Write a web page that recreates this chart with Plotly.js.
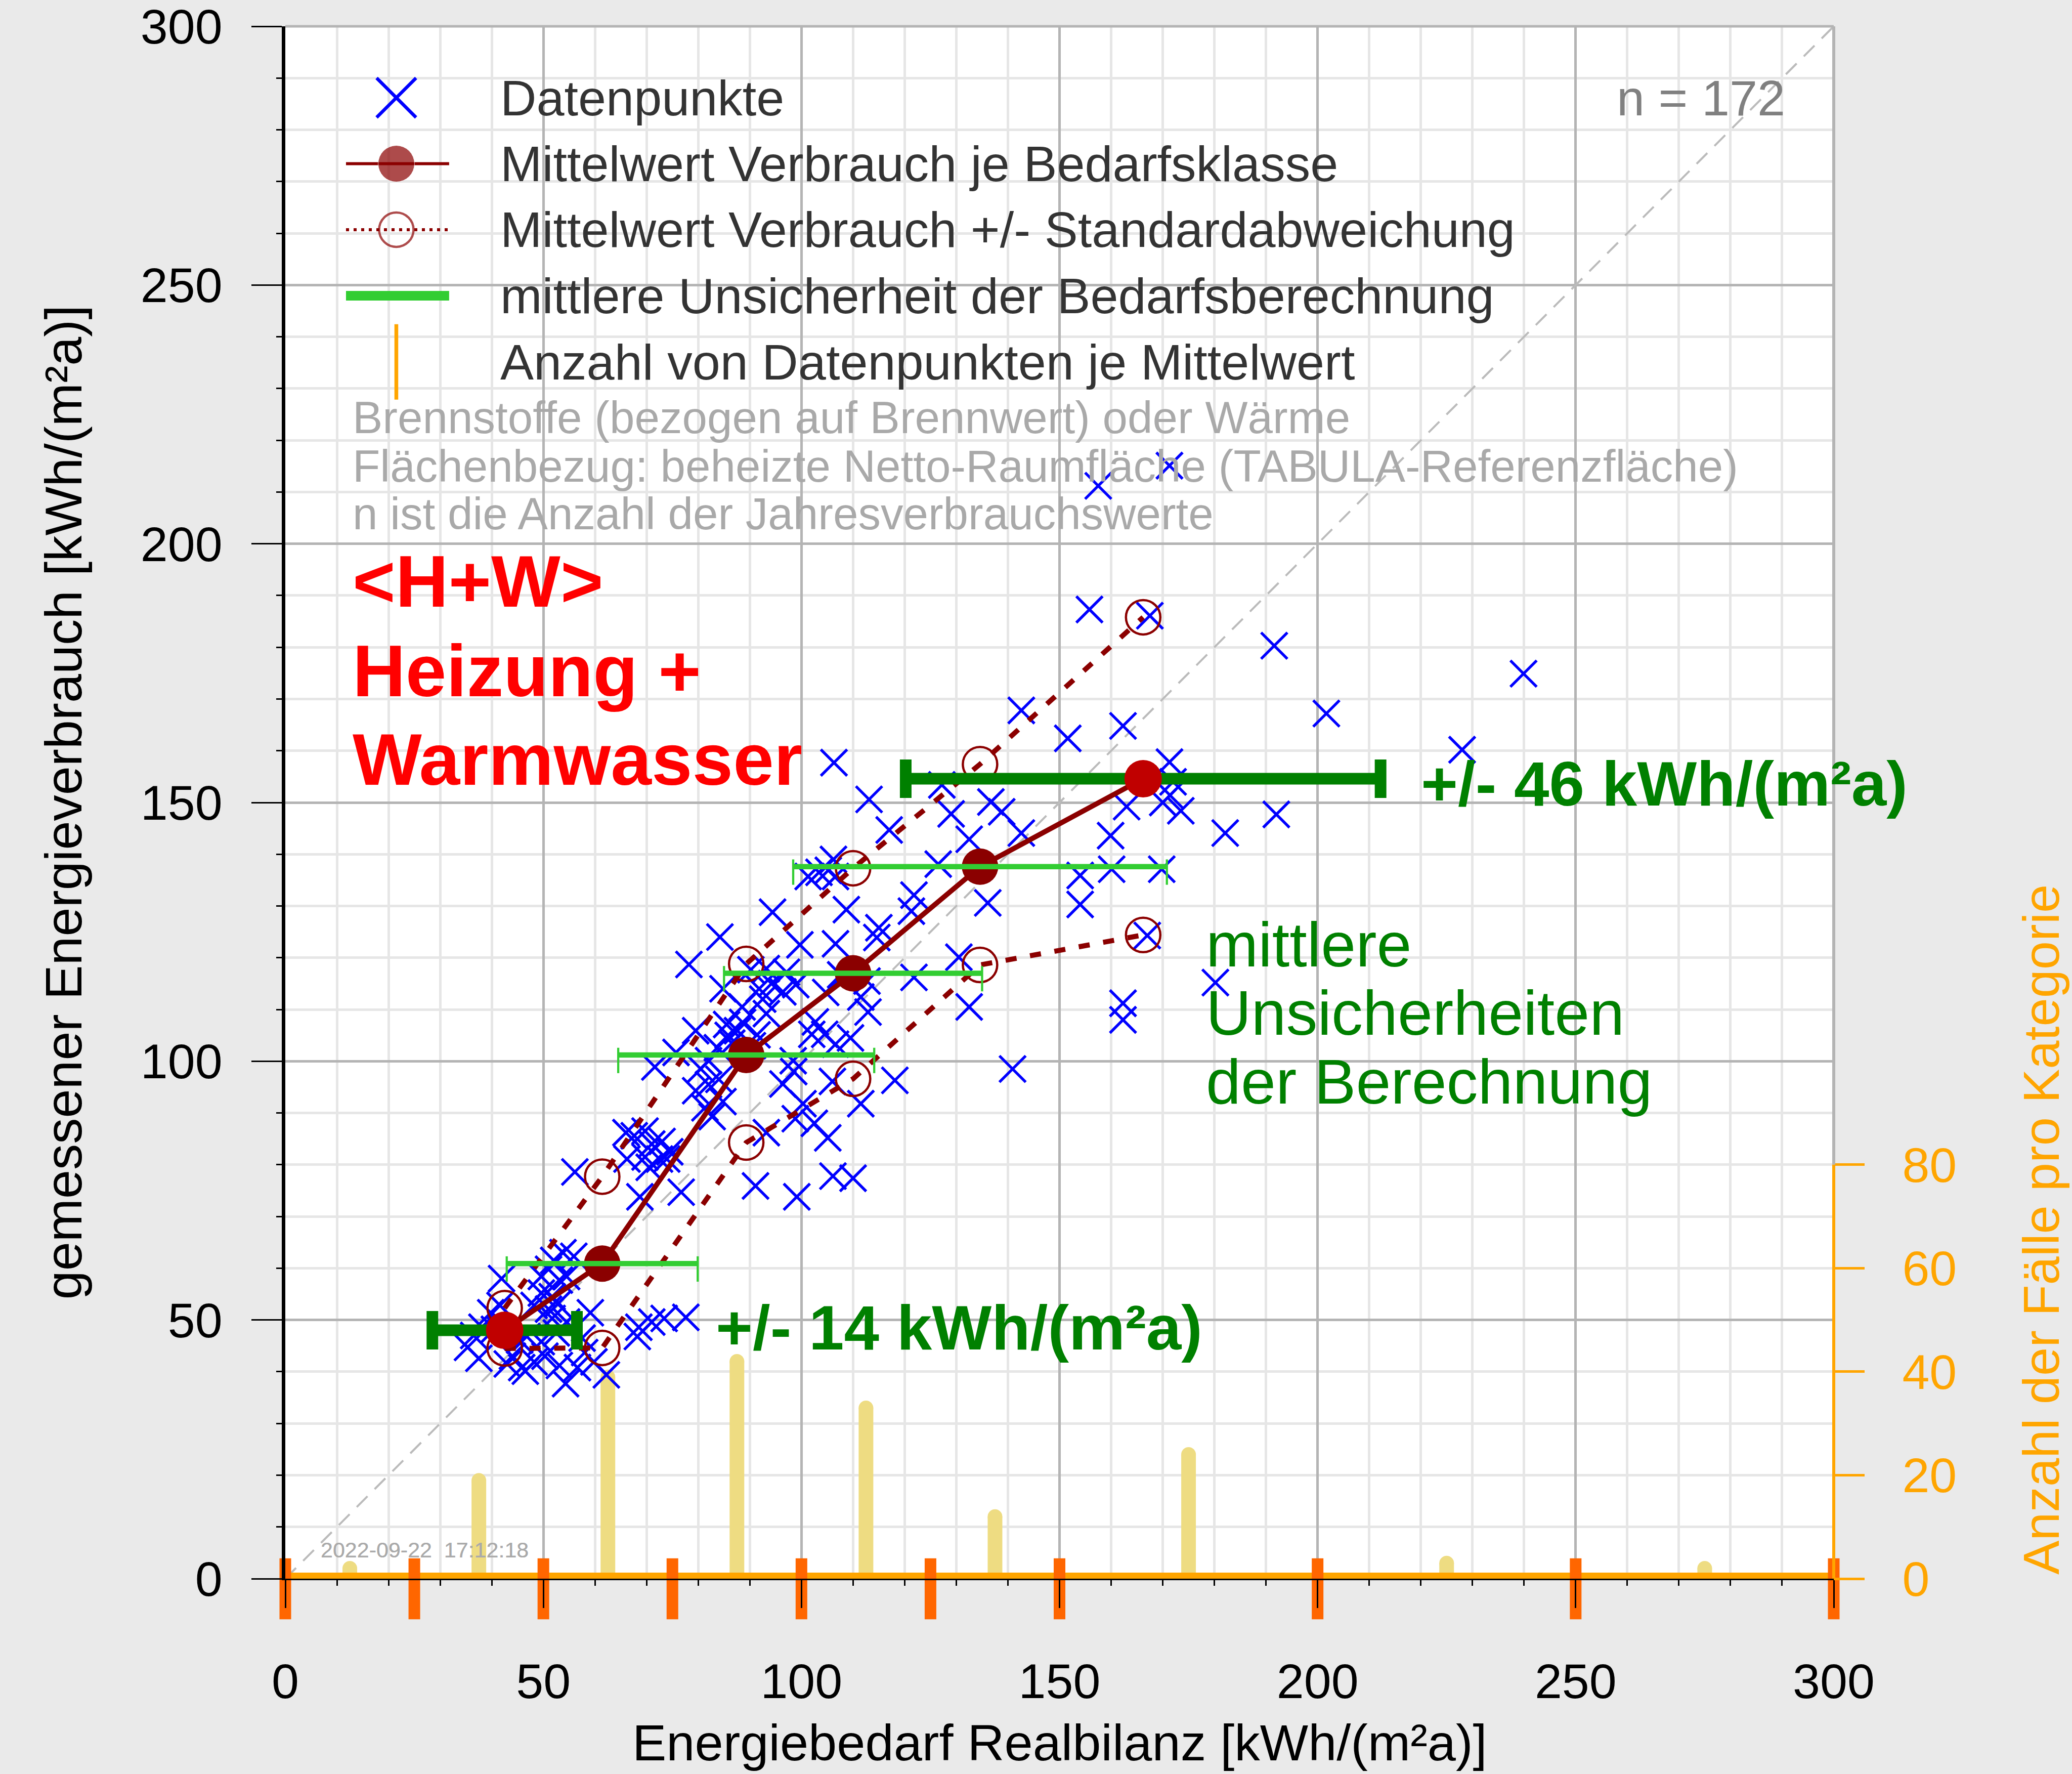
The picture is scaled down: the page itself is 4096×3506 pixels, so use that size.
<!DOCTYPE html>
<html><head><meta charset="utf-8">
<script src="https://cdn.plot.ly/plotly-3.0.1.min.js"></script>
<style>html,body{margin:0;padding:0;background:#EAEAEA;} #chart{width:4096px;height:3506px;}</style>
</head><body><div id="chart"></div>
<script>
// ---------------- data ----------------
const pointsX = [
 41.9,49.6,49.6,48.2,41.6,39.8,38.1,35.3,37.5,45.4,46.8,44.0,45.8,48.2,46.5,40.5,49.6,36.5,43.0,
 53.8,55.9,51.0,53.1,54.5,51.7,52.8,51.0,59.1,68.5,71.0,73.4,68.2,51.7,50.3,53.1,54.3,56.6,58.0,59.8,62.2,54.5,
 71.6,68.7,69.7,67.6,69.7,72.5,73.9,66.2,56.1,71.0,74.5,66.0,70.5,52.5,57.5,52.0,73.0,
 77.6,94.4,84.2,78.2,84.8,90.2,93.2,91.8,94.2,93.2,85.5,87.6,85.8,88.6,79.5,75.7,82.0,83.7,91.4,82.0,84.8,81.3,82.7,93.2,91.1,76.7,79.5,
 99.7,97.1,98.9,96.4,98.5,96.4,98.4,98.8,99.1,88.5,86.5,90.5,80.5,92.5,84.0,
 106.3,113.1,117.0,106.2,101.3,103.4,105.2,106.6,121.8,121.3,108.7,106.6,115.0,114.6,121.8,112.7,112.9,111.5,107.6,102.7,104.5,102.0,106.6,118.1,106.0,111.5,100.3,102.5,105.1,106.1,104.7,110.0,109.5,
 129.0,127.2,136.7,138.8,132.5,126.5,136.1,130.5,132.5,140.9,142.6,142.6,
 157.5,171.3,155.8,167.5,191.6,151.6,162.3,171.3,163.0,171.4,173.5,192.0,182.1,159.9,160.1,154.0,169.8,154.0,167.0,180.2,162.3,162.3,170.0,172.0,
 201.7,239.9,228.0
];
const pointsY = [
 58.0,58.4,55.2,52.8,52.8,51.4,48.6,44.7,42.6,46.1,46.8,43.0,40.8,41.9,40.1,48.2,45.8,47.0,41.5,
 63.0,62.3,59.8,57.7,58.4,54.5,53.1,52.1,51.4,48.6,49.6,50.3,46.8,50.3,43.0,41.2,37.7,40.8,43.7,41.9,39.4,49.6,
 98.9,73.8,86.5,85.6,81.5,81.1,81.1,81.1,78.6,84.0,82.5,86.2,79.5,47.5,46.5,61.5,84.5,
 50.5,128.8,124.0,118.7,114.0,117.7,117.9,114.0,115.0,109.2,107.1,105.9,105.0,107.5,105.9,101.7,100.1,102.6,105.1,95.5,92.2,91.0,89.3,86.2,75.9,74.7,94.3,
 122.5,117.2,114.8,113.4,98.0,95.6,100.1,88.9,73.8,110.5,103.5,103.0,98.5,112.0,96.5,
 157.7,150.6,144.7,139.0,135.7,136.5,136.9,135.7,132.1,129.0,129.3,122.7,125.8,123.9,116.2,115.5,109.5,112.4,116.7,107.6,105.2,105.2,103.3,96.3,96.1,91.8,91.8,88.0,85.2,77.8,113.3,77.4,104.5,
 147.8,153.4,150.1,148.2,142.9,138.1,130.6,120.1,110.5,98.5,167.8,144.1,
 211.2,215.1,187.3,186.1,180.3,162.4,164.8,157.8,149.2,151.4,148.4,147.7,144.1,143.6,137.1,135.9,137.1,130.3,124.3,115.2,111.2,108.0,150.0,154.0,
 167.2,174.9,160.2
];
const meanX = [42.5, 61.4, 89.3, 110.0, 134.6, 166.2];
const meanY = [48.0, 60.9, 101.2, 117.0, 137.6, 154.6];
const stdUpperY = [52.3, 77.7, 118.8, 137.3, 157.4, 185.8];
const stdLowerY = [44.5, 44.6, 84.3, 96.6, 118.6, 124.4];
const uncertaintyHalf = [14, 18.5, 24.8, 25.0, 36.2, 46];
const binCenters = [12.5, 37.5, 62.5, 87.5, 112.5, 137.5, 175, 225, 275];
const binCounts = [2, 19, 39, 42, 33, 12, 24, 3, 2];
const binEdges = [0, 25, 50, 75, 100, 125, 150, 200, 250, 300];
const mainTickVals = [0, 50, 100, 150, 200, 250, 300];
const rightTickVals = [0, 20, 40, 60, 80];
const diagonal = [0, 300];

// legend layout (hidden 0..1 axes)
const legendRowY = [0.954, 0.9115, 0.869, 0.8264, 0.7838];
const legendSymX = 0.0717, legendLineX = [0.0392, 0.1058], legendTextX = 0.1382;

const FONT = 'Liberation Sans, Arial, sans-serif';
const DARKRED = '#8B0000', BRIGHTRED = '#C00000', LIME = '#32CD32', DGREEN = '#008000';
const KHAKI = '#EEDC82', ORANGE = '#FFA500', DORANGE = '#FF6600';

const traces = [];
// diagonal
traces.push({x: diagonal, y: diagonal, mode: 'lines', line: {color: '#BBBBBB', width: 4, dash: '30px,20px'}});
// count bars
const bx = [], by = [];
binCenters.forEach((c, i) => { bx.push(c, c, null); by.push(0, binCounts[i], null); });
traces.push({x: bx, y: by, mode: 'lines', line: {color: KHAKI, width: 29}});
traces.push({x: binCenters, y: binCounts, mode: 'markers', marker: {symbol: 'circle', size: 29, color: KHAKI}});
// data points
traces.push({x: pointsX, y: pointsY, mode: 'markers', marker: {symbol: 'x-thin', size: 52, color: '#0000FF', line: {width: 5.5, color: '#0000FF'}}});
// std dev lines
[stdUpperY, stdLowerY].forEach(sy => {
  traces.push({x: meanX, y: sy, mode: 'lines+markers', line: {color: DARKRED, width: 10, dash: '22px,27px'},
    marker: {symbol: 'circle-open', size: 68, color: DARKRED, line: {width: 4.5, color: DARKRED}}});
});
// mean line
traces.push({x: meanX, y: meanY, mode: 'lines+markers', line: {color: DARKRED, width: 10},
  marker: {symbol: 'circle', size: 72, color: DARKRED}});
// light green uncertainty bars (inner classes)
const innerIdx = meanX.map((_, i) => i).slice(1, -1);
traces.push({x: innerIdx.map(i => meanX[i]), y: innerIdx.map(i => meanY[i]), mode: 'markers',
  marker: {size: 1, color: 'rgba(0,0,0,0)'},
  error_x: {type: 'data', array: innerIdx.map(i => uncertaintyHalf[i]), color: LIME, thickness: 10.5, width: 0}});
const capX = [], capY = [];
innerIdx.forEach(i => { capX.push(meanX[i] - uncertaintyHalf[i], meanX[i] + uncertaintyHalf[i]); capY.push(meanY[i], meanY[i]); });
traces.push({x: capX, y: capY, mode: 'markers', marker: {size: 1, color: 'rgba(0,0,0,0)'},
  error_y: {type: 'constant', symmetric: false, value: 1.4, valueminus: 3.5, color: LIME, thickness: 4.3, width: 0}});
// end classes with dark green error bars
const last = meanX.length - 1;
traces.push({x: [meanX[0], meanX[last]], y: [meanY[0], meanY[last]], mode: 'markers',
  marker: {symbol: 'circle', size: 74, color: BRIGHTRED},
  error_x: {type: 'data', array: [uncertaintyHalf[0], uncertaintyHalf[last]], color: DGREEN, thickness: 23, width: 38}});
// orange baseline and bin-edge ticks on right axis
traces.push({x: [binEdges[0], binEdges[binEdges.length - 1]], y: [0, 0], yaxis: 'y2', mode: 'lines', line: {color: ORANGE, width: 24}});
traces.push({x: binEdges, y: binEdges.map(() => 0), yaxis: 'y2', mode: 'markers', cliponaxis: false,
  marker: {symbol: 'line-ns', size: 86, standoff: 20, color: DORANGE, line: {width: 23, color: DORANGE}}});

// legend symbols
const L = {xaxis: 'x3', yaxis: 'y3', cliponaxis: false};
traces.push(Object.assign({x: [legendSymX], y: [legendRowY[0]], mode: 'markers',
  marker: {symbol: 'x-thin', size: 78, color: '#0000FF', line: {width: 6.5, color: '#0000FF'}}}, L));
traces.push(Object.assign({x: [legendLineX[0], legendSymX, legendLineX[1]], y: [legendRowY[1], legendRowY[1], legendRowY[1]],
  mode: 'lines+markers', line: {color: DARKRED, width: 6}, marker: {size: [0, 72, 0], color: DARKRED}}, L));
traces.push(Object.assign({x: [legendLineX[0], legendSymX, legendLineX[1]], y: [legendRowY[2], legendRowY[2], legendRowY[2]],
  mode: 'lines+markers', line: {color: DARKRED, width: 6, dash: '6px,9px'},
  marker: {symbol: 'circle-open', size: [0, 68, 0], color: DARKRED, line: {width: 4.5, color: DARKRED}}}, L));
traces.push(Object.assign({x: legendLineX, y: [legendRowY[3], legendRowY[3]], mode: 'lines', line: {color: LIME, width: 19}}, L));
traces.push(Object.assign({x: [legendSymX, legendSymX], y: [legendRowY[4] - 0.0243, legendRowY[4] + 0.0243], mode: 'lines', line: {color: ORANGE, width: 7.5}}, L));

const legendTexts = ['Datenpunkte', 'Mittelwert Verbrauch je Bedarfsklasse', 'Mittelwert Verbrauch +/- Standardabweichung',
  'mittlere Unsicherheit der Bedarfsberechnung', 'Anzahl von Datenpunkten je Mittelwert'];
const notes = ['Brennstoffe (bezogen auf Brennwert) oder Wärme', 'Flächenbezug: beheizte Netto-Raumfläche (TABULA-Referenzfläche)', 'n ist die Anzahl der Jahresverbrauchswerte'];
const noteY = [0.7481, 0.7166, 0.686];
const redTexts = ['&lt;H+W&gt;', 'Heizung +', 'Warmwasser'];
const redY = [0.6426, 0.5847, 0.5277];
const greenTexts = ['mittlere', 'Unsicherheiten', 'der Berechnung'];
const greenY = [0.4085, 0.3643, 0.32];

const ann = [];
const A = (o) => ann.push(Object.assign({xref: 'paper', yref: 'paper', showarrow: false, xanchor: 'left', yanchor: 'middle'}, o));
legendTexts.forEach((t, i) => A({x: legendTextX, y: legendRowY[i], text: t, font: {family: FONT, size: 99, color: '#333333'}}));
A({x: 0.9693, y: legendRowY[0], xanchor: 'right', text: 'n = ' + pointsX.length, font: {family: FONT, size: 99, color: '#808080'}});
notes.forEach((t, i) => A({x: 0.0427, y: noteY[i], text: t, font: {family: FONT, size: 89, color: '#A9A9A9'}}));
redTexts.forEach((t, i) => A({x: 0.0427, y: redY[i], text: '<b>' + t + '</b>', font: {family: FONT, size: 145, color: '#FF0000'}}));
A({x: 0.7329, y: 0.5123, text: '<b>+/- ' + uncertaintyHalf[last] + ' kWh/(m²a)</b>', font: {family: FONT, size: 125, color: DGREEN}});
A({x: 0.2773, y: 0.1617, text: '<b>+/- ' + uncertaintyHalf[0] + ' kWh/(m²a)</b>', font: {family: FONT, size: 125, color: DGREEN}});
greenTexts.forEach((t, i) => A({x: 0.5939, y: greenY[i], text: t, font: {family: FONT, size: 124, color: DGREEN}}));
A({x: 0.0222, y: 0.0187, text: '2022-09-22  17:12:13', font: {family: FONT, size: 43, color: '#AAAAAA'}});
A({x: 0.0222, y: 0.0187, text: '2022-09-22  17:12:18', font: {family: FONT, size: 43, color: '#AAAAAA'}});
A({x: 0.5, y: -0.1055, xanchor: 'center', text: 'Energiebedarf Realbilanz [kWh/(m²a)]', font: {family: FONT, size: 101, color: '#000000'}});
A({x: -0.1433, y: 0.5, xanchor: 'center', textangle: -90, text: 'gemessener Energieverbrauch [kWh/(m²a)]', font: {family: FONT, size: 102.5, color: '#000000'}});
A({x: 1.134, y: 0.002, xanchor: 'center', yanchor: 'bottom', textangle: -90, text: 'Anzahl der Fälle pro Kategorie', font: {family: FONT, size: 101, color: ORANGE}});

const minorCfg = {dtick: 10, ticks: 'outside', ticklen: 11, tickwidth: 3, tickcolor: '#000000', showgrid: true, gridcolor: '#E6E6E6', gridwidth: 5};
const layout = {
  width: 4096, height: 3506,
  paper_bgcolor: '#EAEAEA', plot_bgcolor: '#FFFFFF',
  margin: {l: 564, r: 471, t: 52, b: 386},
  showlegend: false, hovermode: false,
  font: {family: FONT},
  xaxis: {range: [0, 300], tickvals: mainTickVals, ticks: 'outside', ticklen: 55, tickwidth: 3, tickcolor: '#000000',
    showline: true, linecolor: '#000000', linewidth: 3, showgrid: true, gridcolor: '#B4B4B4', gridwidth: 5, zeroline: false,
    tickfont: {family: FONT, size: 97, color: '#000000'}, ticklabelstandoff: 62, ticklabeloverflow: 'allow', minor: minorCfg, fixedrange: true},
  yaxis: {range: [0, 300], tickvals: mainTickVals, ticks: 'outside', ticklen: 60, tickwidth: 3, tickcolor: '#000000',
    showline: true, linecolor: '#000000', linewidth: 7, showgrid: true, gridcolor: '#B4B4B4', gridwidth: 5, zeroline: false,
    tickfont: {family: FONT, size: 97, color: '#000000'}, ticklabelstandoff: 38, ticklabeloverflow: 'allow', minor: minorCfg, fixedrange: true},
  yaxis2: {overlaying: 'y', anchor: 'x', side: 'right', range: [0, 300], tickvals: rightTickVals, ticks: 'outside', ticklen: 60,
    tickwidth: 5, tickcolor: ORANGE, tickfont: {family: FONT, size: 97, color: ORANGE}, showgrid: false, zeroline: false,
    showline: false, ticklabelstandoff: 55, ticklabeloverflow: 'allow', fixedrange: true},
  xaxis3: {overlaying: 'x', anchor: 'y3', range: [0, 1], visible: false, fixedrange: true},
  yaxis3: {overlaying: 'y', anchor: 'x3', range: [0, 1], visible: false, fixedrange: true},
  shapes: [
    {type: 'line', xref: 'paper', yref: 'paper', x0: 0, x1: 1, y0: 1, y1: 1, line: {color: '#B4B4B4', width: 5}},
    {type: 'line', xref: 'paper', yref: 'y2', x0: 1, x1: 1, y0: rightTickVals[rightTickVals.length - 1], y1: 300, line: {color: '#B4B4B4', width: 6}},
    {type: 'line', xref: 'paper', yref: 'y2', x0: 1, x1: 1, y0: 0, y1: rightTickVals[rightTickVals.length - 1], line: {color: ORANGE, width: 6}}
  ],
  annotations: ann
};
Plotly.newPlot('chart', traces, layout, {staticPlot: true, displayModeBar: false});
</script></body></html>
